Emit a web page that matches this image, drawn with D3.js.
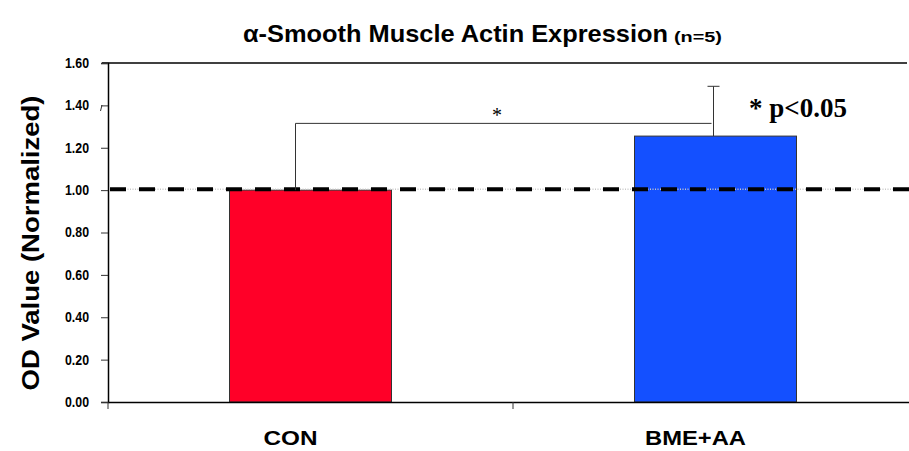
<!DOCTYPE html>
<html>
<head>
<meta charset="utf-8">
<script src="https://cdn.jsdelivr.net/npm/d3@7"></script>
<style>
  html, body { margin: 0; padding: 0; background: #fff; }
  svg { display: block; }
  .nar { font-family: "Liberation Sans", Arial, sans-serif; font-weight: bold; }
</style>
</head>
<body>
<svg id="chart" width="909" height="451"></svg>
<script>
const categories = ["CON", "BME+AA"];
const values = [1.00, 1.255];
const errors = [0, 0.235];
const barColors = ["#FF0028", "#1450FF"];
const yTicks = [0, 0.2, 0.4, 0.6, 0.8, 1.0, 1.2, 1.4, 1.6];
const refValue = 1.0;
const bracketValue = 1.315;
const title = "α-Smooth Muscle Actin Expression";
const titleSub = "(n=5)";
const yLabel = "OD Value (Normalized)";
const sigLabel = "* p<0.05";

const svg = d3.select("#chart");
const mLeft = 108, mRight = 918, mTop = 63, mBottom = 402;

const y = d3.scaleLinear().domain([0, 1.6]).range([mBottom, mTop]);
const x = d3.scaleBand().domain(categories).range([mLeft, mRight]).padding(0);
const barW = x.bandwidth() * 0.4;
const cx = c => x(c) + x.bandwidth() / 2;

// top frame
svg.append("line").attr("x1", mLeft - 6).attr("x2", 907).attr("y1", y(1.6)).attr("y2", y(1.6))
  .attr("stroke", "#000").attr("stroke-width", 1.5);

// y axis
const yAxis = d3.axisLeft(y).tickValues(yTicks).tickFormat(d3.format(".2f")).tickSize(7).tickPadding(12);
const gy = svg.append("g").attr("transform", `translate(${mLeft},0)`).call(yAxis);
gy.select(".domain").attr("stroke", "#000").attr("stroke-width", 1.5);
gy.selectAll(".tick line").attr("stroke", "#333");
gy.selectAll(".tick text").attr("class", "nar").style("font-size", "14px").attr("fill", "#000")
  .attr("textLength", 24).attr("lengthAdjust", "spacingAndGlyphs");

// stray mark
svg.append("line").attr("x1", 100.5).attr("y1", 111).attr("x2", 102).attr("y2", 105).attr("stroke", "#333").attr("stroke-width", 1);

// bars
svg.selectAll("rect.bar").data(categories).enter().append("rect").attr("class", "bar")
  .attr("x", c => cx(c) - barW / 2).attr("width", barW)
  .attr("y", (c, i) => y(values[i])).attr("height", (c, i) => y(0) - y(values[i]))
  .attr("fill", (c, i) => barColors[i]).attr("stroke", "#333").attr("stroke-width", 1);

// reference dashed line (grey dotted underneath)
svg.append("line").attr("x1", mLeft + 2).attr("x2", 909).attr("y1", y(refValue) - 1).attr("y2", y(refValue) - 1)
  .attr("stroke", "#c8c8c8").attr("stroke-width", 1.5).attr("stroke-dasharray", "1 1.5");
svg.append("line").attr("x1", mLeft + 2).attr("x2", 909).attr("y1", y(refValue) - 1).attr("y2", y(refValue) - 1)
  .attr("stroke", "#000").attr("stroke-width", 4).attr("stroke-dasharray", "16 13");

// x axis
const xAxis = d3.axisBottom(x).tickValues([]).tickSize(0);
const gx = svg.append("g").attr("transform", `translate(0,${mBottom})`).call(xAxis);
gx.select(".domain").attr("stroke", "#000").attr("stroke-width", 1.5);
const boundaries = [x(categories[0]), x(categories[1])];
svg.selectAll("line.xt").data(boundaries).enter().append("line").attr("class", "xt")
  .attr("x1", d => d).attr("x2", d => d).attr("y1", mBottom).attr("y2", mBottom + 7)
  .attr("stroke", "#333").attr("stroke-width", 1);
const catLen = [54, 101];
svg.selectAll("text.xl").data(categories).enter().append("text").attr("class", "nar xl")
  .attr("x", c => cx(c) - 20).attr("y", 445).attr("text-anchor", "middle")
  .style("font-size", "21px")
  .attr("textLength", (c, i) => catLen[i]).attr("lengthAdjust", "spacingAndGlyphs")
  .text(c => c);

// error bar
categories.forEach((c, i) => {
  if (errors[i] > 0) {
    const ex = cx(c) - 2;
    svg.append("line").attr("x1", ex).attr("x2", ex).attr("y1", y(values[i])).attr("y2", y(values[i] + errors[i]))
      .attr("stroke", "#333").attr("stroke-width", 1);
    svg.append("line").attr("x1", ex - 6).attr("x2", ex + 6).attr("y1", y(values[i] + errors[i])).attr("y2", y(values[i] + errors[i]))
      .attr("stroke", "#333").attr("stroke-width", 1);
  }
});

// significance bracket
const bx1 = cx(categories[0]) - 15, bx2 = cx(categories[1]) - 4;
svg.append("path")
  .attr("d", `M${bx1},${y(refValue)} V${y(bracketValue)} H${bx2}`)
  .attr("fill", "none").attr("stroke", "#333").attr("stroke-width", 1);
svg.append("text").attr("x", 497).attr("y", y(bracketValue) - 1).attr("text-anchor", "middle")
  .style("font-family", "'Liberation Serif', 'Times New Roman', serif").style("font-size", "20px").text("*");
svg.append("text").attr("x", 749).attr("y", 117)
  .style("font-family", "'Liberation Serif', 'Times New Roman', serif").style("font-weight", "bold").style("font-size", "27px").text(sigLabel);

// title
svg.append("text").attr("class", "nar").attr("x", 243).attr("y", 42)
  .style("font-size", "24px").attr("textLength", 425).attr("lengthAdjust", "spacingAndGlyphs").text(title);
svg.append("text").attr("class", "nar").attr("x", 674).attr("y", 42)
  .style("font-size", "15px").attr("textLength", 48).attr("lengthAdjust", "spacingAndGlyphs").text(titleSub);

// y label
svg.append("text").attr("class", "nar").attr("transform", "translate(39,243) rotate(-90)")
  .attr("text-anchor", "middle").style("font-size", "23px")
  .attr("textLength", 295).attr("lengthAdjust", "spacingAndGlyphs").text(yLabel);
</script>
</body>
</html>
